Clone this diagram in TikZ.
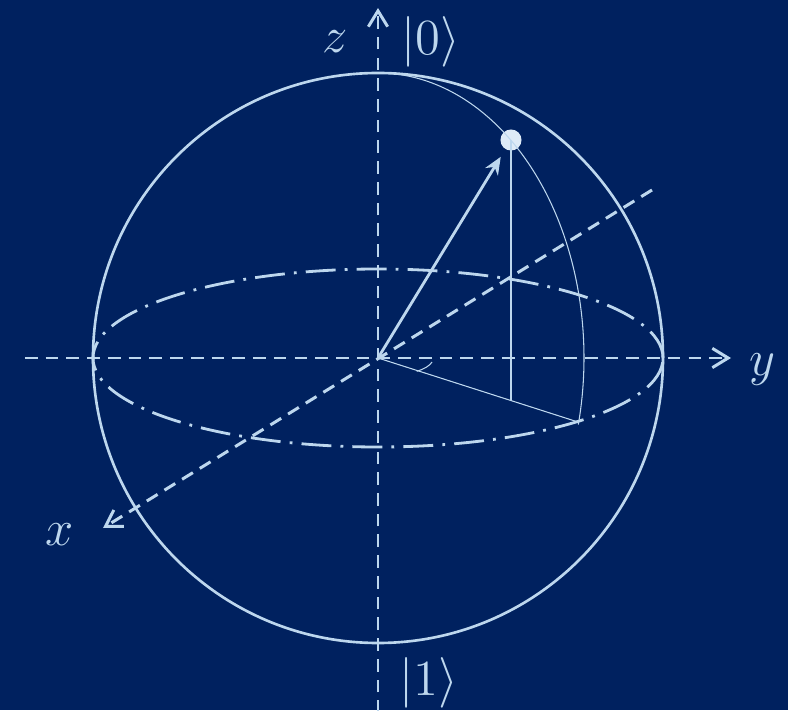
\documentclass[tikz,border=0pt]{standalone}
\usepackage{tikz}
\usetikzlibrary{arrows.meta, positioning}
\usepackage{xcolor}
\definecolor{navy}{RGB}{0,33,95}
\definecolor{paleblue}{RGB}{189,215,238}
\definecolor{dotblue}{RGB}{222,235,247}

\begin{document}
\begin{tikzpicture}[
    axis/.style={draw=paleblue, line width=0.85pt, dash pattern=on 3.6pt off 2.3pt, -{Straight Barb[length=4.5pt,width=5.5pt]}},
    rim/.style={draw=paleblue, line width=0.75pt},
    equator/.style={draw=paleblue, line width=0.8pt, dash pattern=on 8.5pt off 2.6pt on 0.8pt off 2.6pt},
    thinline/.style={draw=paleblue, line width=0.3pt},
    vec/.style={draw=paleblue, line width=0.8pt, -{Stealth[length=5pt,width=4.2pt]}, shorten >=2.4pt},
    lbl/.style={text=paleblue, font=\fontsize{15}{17}\selectfont, inner sep=1pt}
]
% Background
\fill[navy] (-3.78,-3.52) rectangle (4.10,3.58);
\useasboundingbox (-3.78,-3.52) rectangle (4.10,3.58);

% Points
\coordinate (O) at (0,0);
\coordinate (zbot) at (0,-3.55);
\coordinate (ztop) at (0,3.50);
\coordinate (ylft) at (-3.53,0);
\coordinate (yrgt) at (3.53,0);
\coordinate (xfar) at (2.74,1.68);
\coordinate (xnear) at (-2.75,-1.70);
\coordinate (north) at (0,2.85);
\coordinate (proj) at (2.00,-0.64);
\coordinate (foot) at (1.33,-0.426);

% Sphere
\draw[rim] (O) circle (2.85);
\draw[equator] (O) ellipse (2.85 and 0.89);

% Axes
\draw[axis] (zbot) -- (ztop);
\draw[axis] (ylft) -- (yrgt);
\draw[axis] (xfar) -- (xnear);

% Nodes
\node[circle, fill=dotblue, inner sep=0pt, minimum size=6pt] (psi) at (1.33,2.18) {};
\node[lbl] (zlab) at (-0.43,3.16) {$z$};
\node[lbl] (ket0) at (0.53,3.16) {$|0\rangle$};
\node[lbl] (ket1) at (0.51,-3.25) {$|1\rangle$};
\node[lbl] (ylab) at (3.84,-0.12) {$y$};
\node[lbl] (xlab) at (-3.18,-1.77) {$x$};

% Connections
\draw[thinline] (north) arc[start angle=90, end angle=-13.5, x radius=2.06, y radius=2.85];
\draw[thinline] (O) -- (proj);
\draw[thinline, line width=0.45pt] (psi.center) -- (foot);
\draw[thinline] (0.54,-0.04) arc[start angle=-10, end angle=-45, x radius=0.55, y radius=0.175];
\draw[vec] (O) -- (psi);

\end{tikzpicture}
\end{document}
